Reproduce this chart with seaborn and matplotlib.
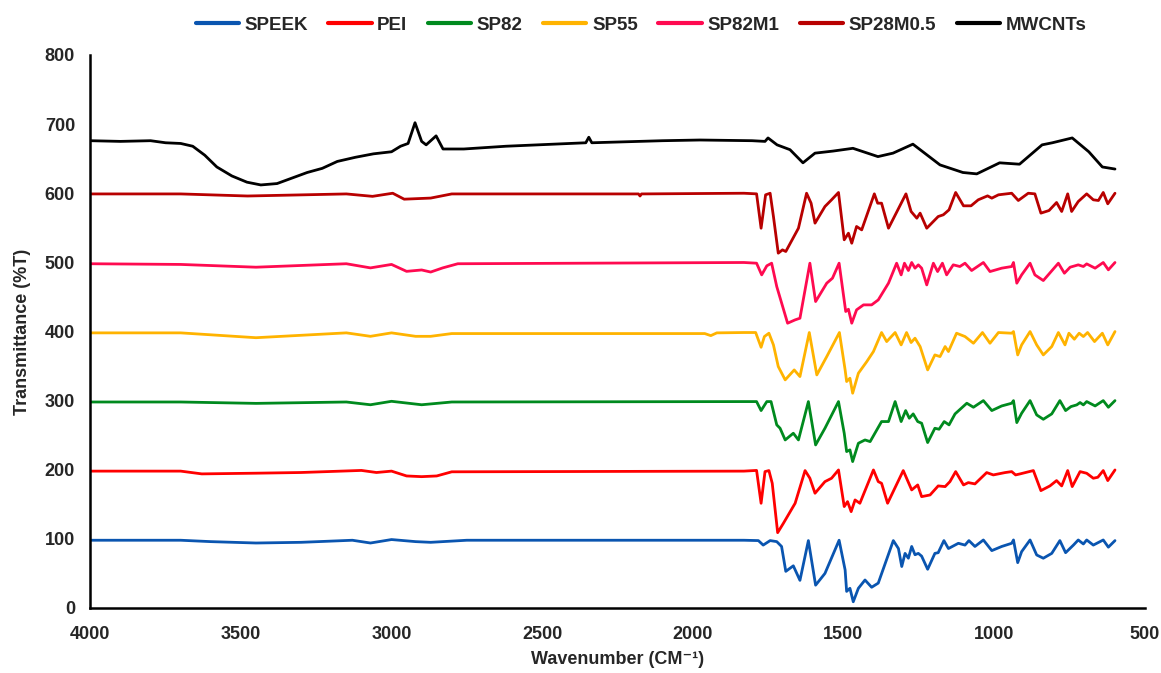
import matplotlib
matplotlib.use("Agg")
import matplotlib.pyplot as plt
import seaborn as sns
import pandas as pd

# FTIR spectra, each offset vertically by 100 %T
speek_wn = [4000, 3700, 3600, 3450, 3300, 3130, 3070, 3000, 2920, 2870, 2750, 1830,
            1782, 1766, 1743, 1721, 1705, 1691, 1666, 1644, 1616, 1592, 1561, 1514,
            1494, 1489, 1478, 1467, 1450, 1428, 1406, 1384, 1334, 1317, 1306, 1295,
            1284, 1273, 1262, 1251, 1240, 1220, 1196, 1185, 1166, 1151, 1118, 1096,
            1083, 1063, 1035, 1007, 974, 941, 935, 921, 908, 880, 858, 836, 808, 781,
            762, 736, 720, 703, 692, 670, 637, 620, 598]
speek_t = [98, 98, 96, 94, 95, 98, 94, 99, 96, 95, 98, 98,
           97.5, 91, 97.5, 96, 89, 53, 61, 40, 97.5, 33, 50, 98,
           55, 24, 28.5, 9, 28.5, 40.5, 30, 36, 97.5, 86, 60, 79,
           72, 89, 77, 79, 75, 56, 79, 80, 97.5, 86, 93.6, 91,
           97.5, 89, 98.4, 83, 89, 93.6, 98.4, 65.6, 81.5, 98.4, 76.7, 72, 79, 97.5,
           80, 91, 98.4, 92.6, 98.4, 91, 98.4, 88, 97.5]

pei_wn = [4000, 3700, 3630, 3450, 3300, 3100, 3050, 3000, 2950, 2900, 2850, 2800, 1830,
          1788, 1773, 1760, 1747, 1736, 1718, 1699, 1660, 1627, 1611, 1594, 1561,
          1539, 1516, 1497, 1486, 1474, 1461, 1445, 1400, 1384, 1373, 1353, 1301,
          1273, 1253, 1240, 1212, 1185, 1162, 1146, 1127, 1101, 1085, 1063, 1024,
          1002, 963, 941, 928, 913, 869, 844, 814, 792, 775, 755, 740, 714, 692,
          670, 655, 637, 622, 598]
pei_t = [198, 198, 194, 195, 196, 199, 196, 198, 191, 190, 191, 197, 198,
         199, 151.5, 197.3, 198.8, 180.4, 109, 122.5, 151.5, 198.8, 187.7, 166, 182.8,
         187.7, 199.7, 146.7, 153.9, 139.4, 156.3, 151.5, 199.7, 182.8, 180.4, 151.5, 198.8,
         170.8, 178, 161.1, 163.5, 176.6, 175.6, 182.8, 197.3, 178, 181.4, 179.5, 195.9,
         192.5, 195.9, 197.3, 192.5, 194, 198.8, 169.8, 176.6, 184.3, 176.6, 198.8, 175.6, 197.3, 194.9,
         187.7, 189.1, 198.8, 184.3, 199.7]

sp82_wn = [4000, 3700, 3450, 3150, 3070, 3000, 2900, 2800, 1830,
           1788, 1773, 1754, 1740, 1721, 1710, 1693, 1666, 1649, 1616, 1592, 1561,
           1516, 1497, 1489, 1478, 1469, 1450, 1428, 1411, 1373, 1350, 1328, 1308,
           1293, 1281, 1268, 1253, 1240, 1220, 1196, 1182, 1165, 1149, 1129, 1090,
           1068, 1035, 1007, 974, 941, 935, 924, 908, 880, 858, 836, 808, 781, 762,
           744, 725, 714, 703, 692, 664, 637, 620, 598]
sp82_t = [298, 298, 296, 298, 294, 299, 294, 298, 298.6,
          298.6, 285.6, 298.6, 298.6, 264.9, 260, 243.1, 252.8, 243.1, 298.6, 235.9, 260,
          298.6, 252.8, 226.3, 228.7, 211.8, 238.3, 243.1, 240.7, 269.7, 269.7, 298.6, 269.7,
          285.6, 274.5, 280.8, 269.7, 267.3, 239.3, 260, 258.6, 269.7, 264.9, 280.8, 296.2,
          290.4, 300, 285.6, 292.3, 296.2, 300, 268.2, 281.7, 300, 279.3, 273, 280.8, 300, 285.6,
          291.4, 293.8, 297.2, 293.8, 298.6, 292.3, 300, 290.4, 300]

sp55_wn = [4000, 3700, 3450, 3150, 3070, 3000, 2920, 2870, 2800, 1960, 1940, 1920, 1830,
           1791, 1773, 1762, 1747, 1732, 1716, 1693, 1663, 1644, 1613, 1588, 1555,
           1513, 1494, 1489, 1478, 1469, 1450, 1422, 1400, 1373, 1356, 1328, 1308,
           1290, 1275, 1262, 1245, 1220, 1196, 1179, 1162, 1151, 1124, 1096, 1068,
           1038, 1013, 985, 941, 935, 921, 908, 880, 858, 836, 808, 786, 764, 751,
           733, 717, 703, 689, 666, 640, 622, 598]
sp55_t = [398, 398, 391, 398, 393, 398, 393, 393, 397, 397, 394, 398, 398.5,
          398.5, 377.2, 392.7, 397.5, 380.6, 349.3, 330, 344.4, 334.8, 398.5, 337.2, 363.7,
          398.5, 344.4, 327.6, 332.4, 310.7, 339.6, 356.5, 371, 398.5, 385.4, 398.5, 380.6,
          398.5, 384, 390.3, 378.2, 344.4, 366.1, 363.7, 378.2, 371, 397.5, 392.7, 383,
          398.5, 383, 398.5, 397.5, 399.9, 366.1, 380.6, 399.9, 380.6, 366.1, 378.2, 398.5, 380.6, 397.5,
          388.8, 397.5, 392.7, 398.5, 385.4, 397.5, 380.6, 399.9]

sp82m1_wn = [4000, 3700, 3450, 3150, 3070, 3000, 2950, 2900, 2870, 2830, 2780, 1830,
             1788, 1771, 1754, 1738, 1721, 1685, 1660, 1644, 1611, 1592, 1555, 1536,
             1514, 1492, 1483, 1472, 1456, 1433, 1406, 1384, 1367, 1350, 1323, 1308,
             1297, 1284, 1273, 1262, 1251, 1240, 1223, 1201, 1187, 1171, 1157, 1135,
             1113, 1096, 1074, 1035, 1013, 974, 941, 935, 924, 908, 880, 864, 836,
             786, 766, 747, 720, 703, 692, 664, 637, 620, 598]
sp82m1_t = [498, 497, 493, 498, 492, 497, 487, 489, 486, 492, 498, 499.8,
            498.8, 481.9, 495, 498.8, 465, 412, 416.8, 419.2, 498.8, 443.3, 469.9, 477.1,
            498.8, 428.9, 432.2, 412, 431.3, 438.5, 438.5, 445.7, 457.8, 469.9, 498.8, 481.9,
            498.8, 488.2, 499.8, 491.6, 496.4, 491.6, 467.4, 498.8, 486.7, 498.8, 481.9, 496.4,
            494, 498.8, 488.2, 499.8, 486.7, 491.6, 494, 499.8, 469.9, 481.9, 498.8, 481.9, 473.7,
            498.8, 484.3, 493, 496.4, 494, 497.8, 491.6, 499.8, 489.2, 499.8]

sp28m05_wn = [4000, 3700, 3478, 3150, 3063, 2996, 2958, 2870, 2800, 2180, 2175, 2170, 1830,
              1788, 1773, 1758, 1743, 1732, 1716, 1702, 1691, 1649, 1622, 1607, 1594,
              1561, 1539, 1516, 1497, 1483, 1472, 1456, 1439, 1397, 1386, 1373, 1350,
              1292, 1275, 1256, 1245, 1223, 1185, 1168, 1149, 1127, 1101, 1076, 1052,
              1021, 1007, 985, 941, 919, 886, 864, 844, 817, 792, 775, 755, 742, 720,
              692, 670, 653, 637, 622, 598]
sp28m05_t = [599, 599, 596, 599, 595.5, 600, 591.4, 593, 599, 599, 596, 599, 600,
             599.1, 549.4, 597.7, 600, 566.3, 513.3, 518.1, 515.7, 549.4, 600, 585.6, 556.7,
             580.8, 590.5, 601.1, 532.6, 542.2, 527.7, 551.9, 547, 599.1, 585.6, 585.6, 549.4,
             599.1, 573.6, 563.9, 571.2, 549.4, 566.3, 568.8, 576, 601.1, 581.8, 581.8, 590.5,
             596.2, 592.9, 597.7, 600, 589.5, 600, 599.1, 571.2, 575, 586.6, 573.6, 599.1, 573.6, 588,
             599.1, 590.5, 589.5, 601.1, 584.7, 600]

mwcnt_wn = [4000, 3900, 3800, 3750, 3700, 3660, 3620, 3580, 3530, 3480, 3434, 3380,
            3330, 3280, 3230, 3180, 3120, 3060, 3000, 2970, 2945, 2922, 2900, 2885,
            2852, 2829, 2760, 2620, 2355, 2345, 2335, 2100, 1976, 1803, 1760, 1750,
            1720, 1677, 1634, 1594, 1534, 1468, 1385, 1335, 1269, 1179, 1103, 1057,
            981, 915, 840, 806, 740, 685, 640, 598]
mwcnt_t = [676, 675, 676, 673, 672, 668, 655, 638, 625, 616, 612, 614,
           622, 630, 636, 646, 652, 657, 660, 668, 672, 702, 675, 670,
           683, 664, 664, 668, 673, 681, 673, 676, 677, 676, 675, 680,
           670, 663, 644, 658, 661, 665, 653, 658, 671, 641, 630, 628,
           644, 642, 670, 673, 680, 660, 638, 635]

series_names = ["SPEEK", "PEI", "SP82", "SP55", "SP82M1", "SP28M0.5", "MWCNTs"]
series_wn = [speek_wn, pei_wn, sp82_wn, sp55_wn, sp82m1_wn, sp28m05_wn, mwcnt_wn]
series_t = [speek_t, pei_t, sp82_t, sp55_t, sp82m1_t, sp28m05_t, mwcnt_t]
colors = ["#0a55b0", "#ff0000", "#008a1e", "#ffb300", "#ff0a50", "#b80000", "#000000"]

x_ticks = [4000, 3500, 3000, 2500, 2000, 1500, 1000, 500]
y_ticks = [0, 100, 200, 300, 400, 500, 600, 700, 800]

frames = []
for name, wn, t in zip(series_names, series_wn, series_t):
    frames.append(pd.DataFrame({"Wavenumber": wn, "Transmittance": t, "Sample": name}))
df = pd.concat(frames, ignore_index=True)

sns.set_theme(style="white")
fam = ["Liberation Sans", "DejaVu Sans"]
plt.rcParams["font.family"] = fam

fig = plt.figure(figsize=(11.61, 6.73), dpi=100)
ax = fig.add_axes([0.0778, 0.0966, 0.9080, 0.8217])

sns.lineplot(data=df, x="Wavenumber", y="Transmittance", hue="Sample",
             hue_order=series_names, palette=colors, estimator=None,
             linewidth=2.0, ax=ax, legend=True)
for line in ax.lines:
    line.set_solid_joinstyle("round")
    line.set_solid_capstyle("round")

ax.set_xlim(4000, 500)
ax.set_ylim(0, 800)
ax.set_xticks(x_ticks)
ax.set_yticks(y_ticks)
ax.set_xticklabels([str(v) for v in x_ticks], fontsize=13, fontweight="bold")
ax.set_yticklabels([str(v) for v in y_ticks], fontsize=13, fontweight="bold")
ax.tick_params(axis="both", direction="out", length=5, width=1.5, color="black")
ax.tick_params(axis="x", pad=8)
ax.tick_params(axis="y", pad=6)

for s in ["top", "right"]:
    ax.spines[s].set_visible(False)
for s in ["left", "bottom"]:
    ax.spines[s].set_color("black")
    ax.spines[s].set_linewidth(1.8)

ax.set_xlabel("Wavenumber (CM\u207B\u00B9)", fontsize=13, fontweight="bold",
              family=fam, labelpad=6)
ax.set_ylabel("Transmittance (%T)", fontsize=13, fontweight="bold", family=fam, labelpad=10)

handles, labels = ax.get_legend_handles_labels()
ax.get_legend().remove()
for h in handles:
    h.set_linewidth(3)
fig.legend(handles, labels, loc="upper center", bbox_to_anchor=(0.552, 1.0), ncol=7,
           frameon=False, handlelength=2.3, handletextpad=0.3, columnspacing=1.1,
           prop={"family": fam, "size": 13.5, "weight": "bold"})

fig.savefig("out.png", dpi=100)
